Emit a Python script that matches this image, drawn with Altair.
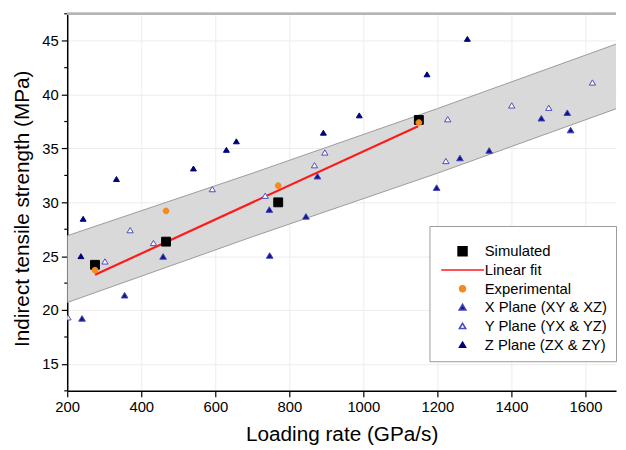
import altair as alt
import pandas as pd

# ---------------- data ----------------
sim_x = [275, 467, 770, 1150]
sim_y = [24.2, 26.35, 30.0, 37.65]

exp_x = [275, 467, 770, 1150]
exp_y = [23.7, 29.2, 31.55, 37.4]

fit_x = [275, 1148]
fit_y = [23.27, 37.07]

x_plane_x = [459, 355, 240, 746, 876, 845, 747, 1261, 1198, 1340, 1481, 1551, 1560]
x_plane_y = [24.95, 21.35, 19.2, 29.3, 32.4, 28.67, 25.04, 34.09, 31.34, 34.79, 37.78, 38.29, 36.68]

y_plane_x = [370, 302, 433, 202, 592, 735, 896, 868, 1228, 1223, 1401, 1501, 1619]
y_plane_y = [27.39, 24.49, 26.2, 19.3, 31.2, 30.59, 34.6, 33.42, 37.69, 33.81, 38.97, 38.75, 41.1]

z_plane_x = [243, 237, 333, 541, 630, 657, 892, 1172, 989, 1281]
z_plane_y = [28.45, 24.98, 32.14, 33.12, 34.85, 35.64, 36.44, 41.86, 38.05, 45.15]

band_x = [200, 700, 1200, 1700]
band_upper = [26.9, 32.7, 38.7, 44.9]
band_lower = [20.7, 26.8, 32.7, 38.9]

x_ticks = list(range(200, 1700, 100))
y_major_ticks = [15, 20, 25, 30, 35, 40, 45]
y_minor_ticks = [12.5, 17.5, 22.5, 27.5, 32.5, 37.5, 42.5, 47.5]

series_names = [
    "Simulated",
    "Linear fit",
    "Experimental",
    "X Plane (XY & XZ)",
    "Y Plane (YX & YZ)",
    "Z Plane (ZX & ZY)",
]

# ---------------- styles ----------------
SQ = "M-0.7,-0.7H0.7V0.7H-0.7Z"
LN = "M-3.5,0H3.5"
CI = "M-0.5,0A0.5,0.5,0,1,1,0.5,0A0.5,0.5,0,1,1,-0.5,0Z"
TR = "M0,-0.55L0.6,0.45L-0.6,0.45Z"
shape_range = [SQ, LN, CI, TR, TR, TR]
fill_range = ["#000000", "transparent", "#f68a1e", "#12128c", "#ffffff", "#00007a"]
stroke_range = ["#000000", "#ff1a1a", "#f68a1e", "#4545b8", "#4b4bc0", "#00007a"]
size_range = [165, 100, 170, 125, 170, 170]

FONT = "Liberation Sans"
W, H = 556, 382

# ---------------- tables ----------------
pts = pd.concat([
    pd.DataFrame({"x": x_plane_x, "y": x_plane_y, "series": series_names[3]}),
    pd.DataFrame({"x": y_plane_x, "y": y_plane_y, "series": series_names[4]}),
    pd.DataFrame({"x": z_plane_x, "y": z_plane_y, "series": series_names[5]}),
    pd.DataFrame({"x": sim_x, "y": sim_y, "series": series_names[0]}),
    pd.DataFrame({"x": exp_x, "y": exp_y, "series": series_names[2]}),
], ignore_index=True)
pts["order"] = range(len(pts))

fit = pd.DataFrame({"x": fit_x, "y": fit_y, "series": series_names[1]})
band = pd.DataFrame({"x": band_x, "hi": band_upper, "lo": band_lower})
yminor = pd.DataFrame({"y": y_minor_ticks})

xscale = alt.Scale(domain=[200, 200 + W / 0.375], nice=False, zero=False)
yscale = alt.Scale(domain=[12.5, 47.5], nice=False, zero=False)

X_MAJOR = "abs(datum.value - 200 * round(datum.value / 200)) < 0.01"

xaxis = alt.Axis(
    values=x_ticks,
    format="d",
    labelExpr=f"{X_MAJOR} ? datum.label : ''",
    tickSize={"condition": {"test": X_MAJOR, "value": 6}, "value": 3},
    gridOpacity={"condition": {"test": X_MAJOR, "value": 1}, "value": 0},
    labelOverlap=False,
    labelFlush=False,
    titlePadding=9,
)
yaxis = alt.Axis(
    values=y_major_ticks,
    format="d",
    tickSize=6,
    labelOverlap=False,
    labelFlush=False,
    titlePadding=10,
    titleY=197,
)
YTITLE = "Indirect tensile strength (MPa)"

legend = alt.Legend(
    title=" ",
    orient="none",
    legendX=367,
    legendY=215,
)

sc_shape = alt.Scale(domain=series_names, range=shape_range)
sc_fill = alt.Scale(domain=series_names, range=fill_range)
sc_stroke = alt.Scale(domain=series_names, range=stroke_range)
sc_size = alt.Scale(domain=series_names, range=size_range)

area = alt.Chart(band).mark_area(color="#d9d9d9", opacity=1, clip=True).encode(
    x=alt.X("x:Q", scale=xscale, axis=xaxis, title="Loading rate (GPa/s)"),
    y=alt.Y("hi:Q", scale=yscale, axis=yaxis, title=YTITLE),
    y2="lo:Q",
)
edge_hi = alt.Chart(band).mark_line(color="#9a9a9a", strokeWidth=1, clip=True).encode(
    x=alt.X("x:Q", scale=xscale), y=alt.Y("hi:Q", scale=yscale, axis=yaxis, title=YTITLE)
)
edge_lo = alt.Chart(band).mark_line(color="#9a9a9a", strokeWidth=1, clip=True).encode(
    x=alt.X("x:Q", scale=xscale), y=alt.Y("lo:Q", scale=yscale, axis=yaxis, title=YTITLE)
)

line = alt.Chart(fit).mark_line(clip=True, strokeWidth=2.2).encode(
    x=alt.X("x:Q", scale=xscale),
    y=alt.Y("y:Q", scale=yscale, axis=yaxis, title=YTITLE),
    stroke=alt.Stroke("series:N", scale=sc_stroke, legend=legend),
)

points = alt.Chart(pts).mark_point(filled=True, opacity=1, clip=True, strokeWidth=1).encode(
    x=alt.X("x:Q", scale=xscale),
    y=alt.Y("y:Q", scale=yscale, axis=yaxis, title=YTITLE),
    shape=alt.Shape("series:N", scale=sc_shape, legend=legend),
    fill=alt.Fill("series:N", scale=sc_fill, legend=legend),
    stroke=alt.Stroke("series:N", scale=sc_stroke, legend=legend),
    size=alt.Size("series:N", scale=sc_size, legend=None),
    order=alt.Order("order:Q"),
)

# minor y ticks (outside the plot, left of the axis line)
minor_y = alt.Chart(yminor).mark_rule(color="#000000", strokeWidth=1.2).encode(
    y=alt.Y("y:Q", scale=yscale, axis=yaxis, title=YTITLE),
    x=alt.value(-3),
    x2=alt.value(0),
)

top_border = alt.Chart(band).mark_rule(color="#b5b5b5", strokeWidth=2).encode(
    x=alt.value(0), x2=alt.value(W), y=alt.value(0)
)

chart = (
    alt.layer(area, edge_hi, edge_lo, line, points, minor_y, top_border)
    .properties(
        width=W,
        height=H,
        autosize=alt.AutoSizeParams(type="none"),
        padding={"left": 60, "top": 3, "right": 2, "bottom": 54},
    )
    .configure_view(stroke=None)
    .configure_axis(
        labelFont=FONT,
        titleFont=FONT,
        labelFontSize=15,
        titleFontSize=21,
        titleFontWeight="normal",
        labelColor="#000000",
        titleColor="#000000",
        domainColor="#000000",
        domainWidth=1.5,
        tickColor="#000000",
        tickWidth=1.2,
        gridColor="#ececec",
        gridWidth=1,
        labelPadding=3,
    )
    .configure_legend(
        labelFont=FONT,
        labelFontSize=15,
        labelColor="#000000",
        titleFontSize=8,
        titlePadding=2,
        padding=8,
        strokeColor="#9a9a9a",
        fillColor="#ffffff",
        symbolSize=100,
        symbolStrokeWidth=1.6,
        symbolOffset=18,
        labelOffset=15,
        rowPadding=3,
        cornerRadius=0,
    )
)

chart.save("out.html", embed_options={"renderer": "svg", "actions": False})
